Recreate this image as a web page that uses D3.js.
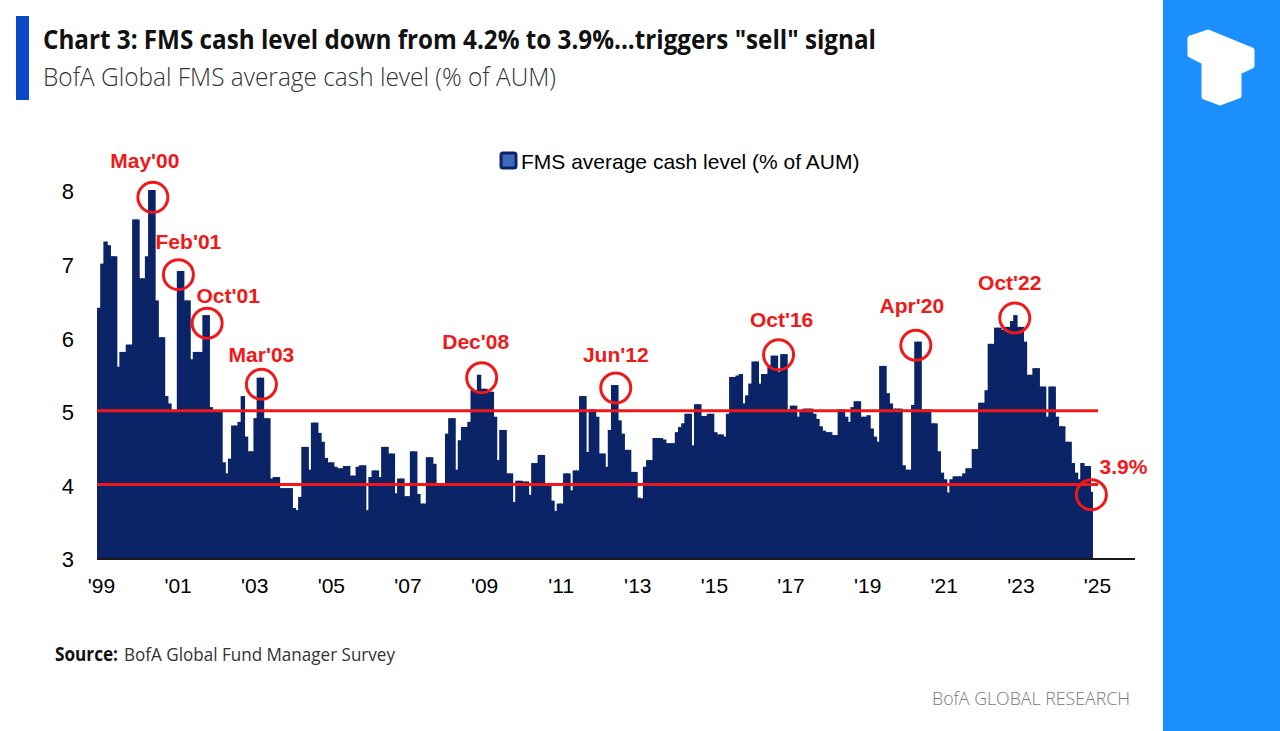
<!DOCTYPE html>
<html>
<head>
<meta charset="utf-8">
<script src="https://cdn.jsdelivr.net/npm/d3@7"></script>
<style>
  html, body { margin: 0; padding: 0; background: #fff; }
  svg { display: block; }
</style>
</head>
<body>
<svg id="chart" width="1280" height="731"></svg>
<script>
// ---------------- DATA ----------------
const startYear = 1999;
// Monthly FMS average cash level (% of AUM), Jan 1999 .. Dec 2024
const cash1999_2003 = [
  6.4, 7.0, 7.3, 7.25, 7.1, 7.1, 5.6, 5.8, 5.8, 5.9, 5.9, 7.6,
  7.6, 6.8, 6.8, 7.1, 8.0, 8.0, 6.5, 6.0, 6.0, 5.2, 5.1, 5.0,
  5.0, 6.9, 6.9, 6.5, 6.5, 5.7, 5.8, 5.8, 5.8, 6.3, 6.3, 5.05,
  5.0, 5.0, 5.0, 4.3, 4.15, 4.35, 4.8, 4.8, 4.85, 5.2, 4.65, 4.45,
  4.45, 4.9, 5.45, 5.45, 4.9, 4.9, 4.08, 4.1, 4.1, 3.95, 3.95, 3.95
];
const cash2004_2008 = [
  3.95, 3.68, 3.65, 3.83, 4.51, 4.51, 4.2, 4.84, 4.84, 4.7, 4.58, 4.36,
  4.3, 4.3, 4.24, 4.22, 4.22, 4.25, 4.25, 4.12, 4.12, 4.24, 4.26, 4.26,
  3.65, 4.1, 4.19, 4.19, 4.1, 4.51, 4.51, 4.42, 4.42, 3.88, 4.08, 4.08,
  3.84, 3.84, 4.45, 4.45, 3.87, 3.74, 3.74, 4.37, 4.37, 4.28, 4.0, 4.01,
  4.01, 4.69, 4.9, 4.9, 4.2, 4.6, 4.78, 4.78, 4.85, 5.28, 5.28, 5.49
];
const cash2009_2013 = [
  5.3, 5.3, 5.26, 5.26, 4.92, 4.33, 4.74, 4.74, 4.15, 4.15, 3.76, 4.05,
  4.05, 4.04, 4.04, 3.86, 4.29, 4.29, 4.4, 4.4, 4.0, 4.0, 3.78, 3.64,
  3.74, 3.74, 4.15, 4.15, 3.92, 4.19, 4.19, 5.2, 5.2, 4.44, 5.02, 5.02,
  4.92, 4.42, 4.42, 4.24, 4.74, 5.35, 5.35, 4.87, 4.69, 4.47, 4.47, 4.17,
  4.17, 3.82, 3.81, 4.24, 4.33, 4.33, 4.63, 4.63, 4.63, 4.61, 4.56, 4.56
];
const cash2014_2018 = [
  4.56, 4.71, 4.78, 4.83, 4.96, 4.96, 4.53, 5.09, 5.09, 4.93, 4.93, 4.96,
  4.96, 4.71, 4.68, 4.68, 4.65, 4.96, 5.46, 5.46, 5.48, 5.5, 5.1, 5.21,
  5.37, 5.67, 5.67, 5.37, 5.5, 5.5, 5.62, 5.75, 5.75, 5.53, 5.77, 5.77,
  5.02, 5.07, 5.07, 4.92, 4.99, 5.03, 5.03, 5.03, 4.96, 4.89, 4.79, 4.73,
  4.71, 4.71, 4.67, 4.67, 5.02, 5.02, 4.92, 4.85, 5.05, 5.13, 5.13, 4.92
];
const cash2019_2024 = [
  4.92, 4.94, 4.76, 4.65, 4.58, 5.61, 5.61, 5.24, 5.1, 5.03, 5.03, 5.03,
  4.26, 4.2, 4.2, 5.08, 5.94, 5.94, 5.02, 5.02, 5.02, 4.83, 4.83, 4.45,
  4.16, 4.07, 3.89, 4.07, 4.11, 4.11, 4.11, 4.15, 4.22, 4.22, 4.48, 4.48,
  5.11, 5.11, 5.28, 5.91, 5.91, 6.13, 6.13, 6.1, 6.14, 6.14, 6.22, 6.3,
  6.14, 6.14, 5.94, 5.49, 5.49, 5.58, 5.58, 5.33, 5.33, 4.92, 5.33, 5.33,
  4.92, 4.79, 4.79, 4.58, 4.58, 4.29, 4.16, 4.07, 4.29, 4.25, 4.25, 3.9
];
const cashLevel = [].concat(cash1999_2003, cash2004_2008, cash2009_2013, cash2014_2018, cash2019_2024);

const yTicks = [3, 4, 5, 6, 7, 8];
const xTickYears = [1999, 2001, 2003, 2005, 2007, 2009, 2011, 2013, 2015, 2017, 2019, 2021, 2023, 2025];
const thresholds = [5, 4];

// annotations: label, bar index circled, value at circle centre
const annotLabels = ["May'00", "Feb'01", "Oct'01", "Mar'03", "Dec'08", "Jun'12", "Oct'16", "Apr'20", "Oct'22", "3.9%"];
const annotIndex  = [17, 25, 34, 51, 120, 162, 213, 256, 287, 311];
const annotValue  = [7.9, 6.85, 6.19, 5.36, 5.45, 5.31, 5.76, 5.89, 6.26, 3.86];

const titleText = 'Chart 3: FMS cash level down from 4.2% to 3.9%...triggers "sell" signal';
const subtitleText = "BofA Global FMS average cash level (% of AUM)";
const legendText = "FMS average cash level (% of AUM)";

// ---------------- LAYOUT ----------------
const svg = d3.select("#chart");
const W = 1280, H = 731;
const plotLeft = 97, barsRight = 1093, axisRight = 1135;
const plotTop = 190, plotBottom = 558;
const NAVY = "#0b2367", RED = "#f01818";
const axisFont = "'Liberation Sans', Arial, sans-serif";
const labelOffsets = [[-8,-37],[10,-33],[21,-28],[0,-30],[-6,-36],[0,-33],[3,-35],[-4,-40],[-5,-36],[32,-28]];

// background
svg.append("rect").attr("width", W).attr("height", H).attr("fill", "#fff");

// right blue panel + logo
svg.append("rect").attr("x", 1163).attr("y", 0).attr("width", W - 1163).attr("height", H).attr("fill", "#1b8ffb");
svg.append("polygon")
  .attr("points", "1190,38 1208,32 1252,50 1252,66 1239,72 1239,96 1220,103 1204,97 1204,62 1190,55")
  .attr("fill", "#fff").attr("stroke", "#fff").attr("stroke-width", 5).attr("stroke-linejoin", "round");

// header
svg.append("rect").attr("x", 16).attr("y", 16).attr("width", 13).attr("height", 84).attr("fill", "#0b4ac6");
svg.append("text").attr("x", 43).attr("y", 49)
  .attr("font-family", "'Open Sans', 'Noto Sans', sans-serif").attr("font-weight", 700).attr("font-size", 27)
  .attr("fill", "#111").attr("textLength", 833).attr("lengthAdjust", "spacingAndGlyphs")
  .text(titleText);
svg.append("text").attr("x", 43).attr("y", 86)
  .attr("font-family", "'Open Sans', 'Noto Sans', sans-serif").attr("font-weight", 300).attr("font-size", 25)
  .attr("fill", "#333").attr("textLength", 513).attr("lengthAdjust", "spacingAndGlyphs")
  .text(subtitleText);

// scales
const x = d3.scaleBand().domain(d3.range(cashLevel.length)).range([plotLeft, barsRight]).padding(0);
const xYear = d3.scaleLinear().domain([startYear, startYear + cashLevel.length / 12]).range([plotLeft, barsRight]);
const y = d3.scaleLinear().domain([3, 8]).range([plotBottom, plotTop]);
const bw = x.bandwidth();

// bars (slightly overlapped so adjacent months form a solid mass)
svg.append("g").selectAll("rect").data(cashLevel).join("rect")
  .attr("x", (d, i) => x(i))
  .attr("y", d => y(d))
  .attr("width", (d, i) => i === cashLevel.length - 1 ? bw : bw + 1.2)
  .attr("height", d => y(3) - y(d))
  .attr("fill", NAVY);

// x axis baseline
svg.append("line").attr("x1", plotLeft).attr("x2", axisRight).attr("y1", plotBottom + 1).attr("y2", plotBottom + 1)
  .attr("stroke", "#1a1a1a").attr("stroke-width", 2);

// y axis
const yAxis = svg.append("g").attr("transform", `translate(${plotLeft},0)`)
  .call(d3.axisLeft(y).tickValues(yTicks).tickSize(0).tickPadding(23).tickFormat(d3.format("d")));
yAxis.select(".domain").remove();
yAxis.selectAll("text").attr("font-family", axisFont).attr("font-size", 22).attr("fill", "#000").attr("dy", "0.4em");

// x axis
const xAxis = svg.append("g").attr("transform", `translate(4,${plotBottom})`)
  .call(d3.axisBottom(xYear).tickValues(xTickYears).tickSize(0).tickPadding(20)
    .tickFormat(d => "'" + String(d).slice(2)));
xAxis.select(".domain").remove();
xAxis.selectAll("text").attr("font-family", axisFont).attr("font-size", 21).attr("fill", "#000");

// threshold lines
svg.append("g").selectAll("line").data(thresholds).join("line")
  .attr("x1", plotLeft).attr("x2", 1098)
  .attr("y1", d => y(d)).attr("y2", d => y(d))
  .attr("stroke", RED).attr("stroke-width", 3);

// legend
const lg = svg.append("g");
lg.append("rect").attr("x", 501).attr("y", 153).attr("width", 15).attr("height", 15).attr("rx", 2)
  .attr("fill", "#3f68bf").attr("stroke", NAVY).attr("stroke-width", 3);
lg.append("text").attr("x", 521).attr("y", 161).attr("dominant-baseline", "central")
  .attr("font-family", axisFont).attr("font-size", 21).attr("fill", "#000").text(legendText);

// annotations
const annots = annotLabels.map((label, k) => ({ label, i: annotIndex[k], v: annotValue[k], off: labelOffsets[k] }));
const ag = svg.append("g");
ag.selectAll("circle").data(annots).join("circle")
  .attr("cx", d => x(d.i) + bw / 2)
  .attr("cy", d => y(d.v))
  .attr("r", 15)
  .attr("fill", "none").attr("stroke", RED).attr("stroke-width", 3);
ag.selectAll("text").data(annots).join("text")
  .attr("x", d => x(d.i) + bw / 2 + d.off[0])
  .attr("y", d => y(d.v) + d.off[1])
  .attr("text-anchor", "middle").attr("dominant-baseline", "central")
  .attr("font-family", axisFont).attr("font-weight", 700).attr("font-size", 21)
  .attr("fill", RED).text(d => d.label);

// footer
svg.append("text").attr("x", 55).attr("y", 661)
  .attr("font-family", "'Open Sans', 'Noto Sans', sans-serif").attr("font-weight", 700).attr("font-size", 19)
  .attr("fill", "#111").attr("textLength", 63).attr("lengthAdjust", "spacingAndGlyphs").text("Source:");
svg.append("text").attr("x", 124).attr("y", 661)
  .attr("font-family", "'Open Sans', 'Noto Sans', sans-serif").attr("font-weight", 400).attr("font-size", 19)
  .attr("fill", "#333").attr("textLength", 271).attr("lengthAdjust", "spacingAndGlyphs")
  .text("BofA Global Fund Manager Survey");
svg.append("text").attr("x", 932).attr("y", 705)
  .attr("font-family", "'Open Sans', 'Noto Sans', sans-serif").attr("font-weight", 300).attr("font-size", 19)
  .attr("fill", "#7a7a7a").attr("textLength", 198).attr("lengthAdjust", "spacingAndGlyphs")
  .text("BofA GLOBAL RESEARCH");
</script>
</body>
</html>
